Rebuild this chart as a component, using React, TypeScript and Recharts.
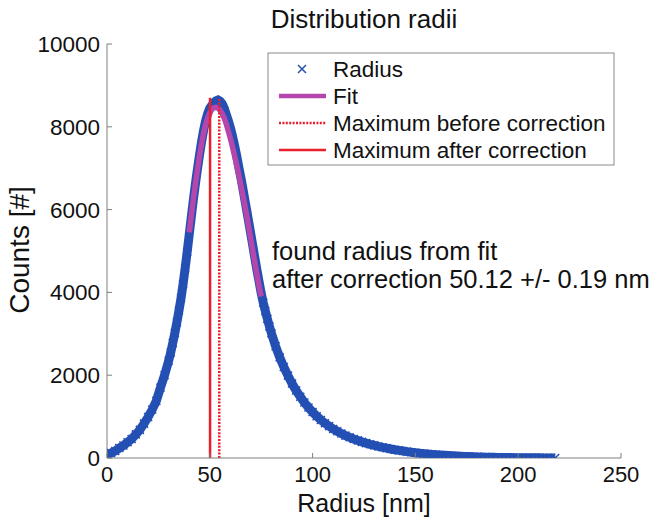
import { ComposedChart, Line, XAxis, YAxis } from "recharts"

const radius = [
  0, 2, 4, 6, 8, 10, 12, 14, 16, 18, 20, 22, 24, 26, 28, 30,
  31, 32, 33, 34, 35, 36, 37, 38, 39, 40, 41, 42, 43, 44, 45, 46, 47, 48, 49, 50,
  51, 52, 53, 54, 55, 56, 57, 58, 59, 60, 61, 62, 63, 64, 65, 66, 67, 68, 69, 70,
  71, 72, 73, 74, 75, 76, 77, 78, 79, 80,
  82, 84, 86, 88, 90, 92, 94, 96, 98, 100, 102, 104, 106, 108, 110, 112, 114, 116, 118, 120,
  122, 124, 126, 128, 130, 132, 134, 136, 138, 140, 142, 144, 146, 148, 150, 152, 154, 156, 158, 160,
  162, 164, 166, 168, 170, 172, 174, 176, 178, 180, 182, 184, 186, 188, 190, 192, 194, 196, 198, 200,
  202, 204, 206, 208, 210, 212, 214, 216, 218,
]
const counts = [
  60, 120, 170, 240, 300, 380, 460, 570, 680, 830, 990, 1170, 1380, 1700, 2000, 2350,
  2550, 2780, 3020, 3280, 3560, 3860, 4200, 4580, 4980, 5400, 5820, 6230, 6620, 6980, 7320, 7640, 7920, 8150, 8320, 8450,
  8520, 8580, 8630, 8650, 8620, 8560, 8450, 8300, 8150, 7980, 7780, 7560, 7320, 7050, 6800, 6530, 6250, 5970, 5680, 5390,
  5100, 4810, 4520, 4250, 3980, 3750, 3550, 3360, 3180, 3010,
  2700, 2430, 2200, 1990, 1800, 1630, 1480, 1340, 1220, 1110, 1010, 920, 840, 770, 700, 645, 590, 540, 500, 460,
  425, 390, 360, 330, 305, 280, 258, 238, 218, 200, 184, 168, 154, 140, 128, 117, 106, 96, 87, 79,
  71, 64, 58, 52, 47, 42, 38, 34, 30, 27, 24, 21, 19, 17, 15, 13, 12, 10, 9, 8,
  7, 6, 5, 5, 4, 3, 3, 2, 2,
]

const fitRadius = [
  40, 41, 42, 43, 44, 45, 46, 47, 48, 49, 50, 51, 52, 53, 54, 55, 56, 57,
  58, 59, 60, 61, 62, 63, 64, 65, 66, 67, 68, 69, 70, 71, 72, 73, 74, 75,
]
const fitCounts = [
  5450, 5850, 6250, 6620, 6960, 7290, 7590, 7850, 8060, 8220, 8340, 8420, 8460, 8470, 8450, 8400, 8320, 8210,
  8070, 7900, 7720, 7520, 7310, 7090, 6860, 6620, 6370, 6110, 5840, 5560, 5270, 4980, 4690, 4410, 4140, 3900,
]

const maxBefore = 54.6
const maxAfter = 50.12
const markerTop = 8700

const xTicks = [0, 50, 100, 150, 200, 250]
const yTicks = [0, 2000, 4000, 6000, 8000, 10000]

const legendNames = ["Radius", "Fit", "Maximum before correction", "Maximum after correction"]

const BLUE = "#2450b4"
const MAGENTA = "#b546ab"
const RED = "#e8202c"
const AXIS = "#7f7f7f"
const FONT = "'Liberation Sans', Arial, sans-serif"

const curveData = radius.map((r, i) => ({ r, c: counts[i] }))
const fitData = fitRadius.map((r, i) => ({ r, c: fitCounts[i] }))
const beforeData = [{ r: maxBefore, c: 0 }, { r: maxBefore, c: markerTop }]
const afterData = [{ r: maxAfter, c: 0 }, { r: maxAfter, c: markerTop }]
const fitFrom = fitRadius[0]
const fitTo = fitRadius[fitRadius.length - 1]

const Cross = (p: any) => {
  const s = 4
  return (
    <path
      d={`M${p.cx - s},${p.cy - s}L${p.cx + s},${p.cy + s}M${p.cx - s},${p.cy + s}L${p.cx + s},${p.cy - s}`}
      stroke={BLUE}
      strokeWidth={1.5}
      fill="none"
    />
  )
}

// crosses under the fit would hide it (dots draw above all lines), so skip them there
const DataDot = (p: any) => {
  const r = p.payload?.r
  if (r >= fitFrom && r <= fitTo) return <g key={p.index} />
  return <Cross key={p.index} cx={p.cx} cy={p.cy} />
}

const XTick = ({ x, y, payload }: any) => (
  <g>
    <line x1={x} y1={y} x2={x} y2={y - 5} stroke={AXIS} />
    <text x={x} y={y + 24} textAnchor="middle" fontSize={22} fill="#111" fontFamily={FONT}>
      {payload.value}
    </text>
  </g>
)

const YTick = ({ x, y, payload }: any) => (
  <g>
    <line x1={x} y1={y} x2={x + 5} y2={y} stroke={AXIS} />
    <text x={x - 7} y={y + 8} textAnchor="end" fontSize={22.5} fill="#111" fontFamily={FONT}>
      {payload.value}
    </text>
  </g>
)

const LegendBox = () => (
  <g fontFamily={FONT}>
    <rect x={268} y={53} width={346} height={112} fill="#fff" stroke="#8a8a8a" />
    {legendNames.map((name, i) => {
      const cy = 69 + i * 27
      let sym
      if (i === 0) sym = <Cross cx={302} cy={cy} />
      else if (i === 1) sym = <line x1={279} x2={326} y1={cy} y2={cy} stroke={MAGENTA} strokeWidth={4.5} />
      else if (i === 2) sym = <line x1={279} x2={326} y1={cy} y2={cy} stroke={RED} strokeWidth={2.5} strokeDasharray="2 1.4" />
      else sym = <line x1={279} x2={326} y1={cy} y2={cy} stroke={RED} strokeWidth={2.5} />
      return (
        <g key={name}>
          {sym}
          <text x={333} y={cy + 8} fontSize={22.5} fill="#111">{name}</text>
        </g>
      )
    })}
  </g>
)

export default function App() {
  return (
    <div style={{ position: "absolute", left: 0, top: 0, width: 664, height: 524, background: "#fff" }}>
      <ComposedChart width={664} height={524} margin={{ top: 44, right: 43, bottom: 0, left: 0 }}>
        <XAxis
          type="number"
          dataKey="r"
          domain={[0, 250]}
          ticks={xTicks}
          height={66}
          tickSize={0}
          tickMargin={0}
          tick={<XTick />}
          stroke={AXIS}
          allowDataOverflow
        />
        <YAxis
          type="number"
          dataKey="c"
          domain={[0, 10000]}
          ticks={yTicks}
          width={107}
          tickSize={0}
          tickMargin={0}
          tick={<YTick />}
          stroke={AXIS}
          allowDataOverflow
        />
        <Line
          data={curveData}
          dataKey="c"
          stroke={BLUE}
          strokeWidth={9}
          dot={DataDot}
          isAnimationActive={false}
        />
        <Line data={fitData} dataKey="c" stroke={MAGENTA} strokeWidth={5.5} dot={false} isAnimationActive={false} />
        <Line data={beforeData} dataKey="c" stroke={RED} strokeWidth={2.5} strokeDasharray="2 1.4" dot={false} isAnimationActive={false} />
        <Line data={afterData} dataKey="c" stroke={RED} strokeWidth={2.5} dot={false} isAnimationActive={false} />
      </ComposedChart>
      <svg width={664} height={524} style={{ position: "absolute", left: 0, top: 0, pointerEvents: "none" }}>
        <text x={364} y={28} textAnchor="middle" fontSize={26} fill="#111" fontFamily={FONT}>Distribution radii</text>
        <LegendBox />
        <text x={272} y={260} fontSize={25.5} fill="#111" fontFamily={FONT}>found radius from fit</text>
        <text x={272} y={288} fontSize={25.5} fill="#111" fontFamily={FONT}>after correction 50.12 +/- 0.19 nm</text>
        <text x={364} y={512} textAnchor="middle" fontSize={25} fill="#111" fontFamily={FONT}>Radius [nm]</text>
        <text x={0} y={0} textAnchor="middle" fontSize={28} fill="#111" fontFamily={FONT} transform="translate(29,250) rotate(-90)">Counts [#]</text>
      </svg>
    </div>
  )
}
